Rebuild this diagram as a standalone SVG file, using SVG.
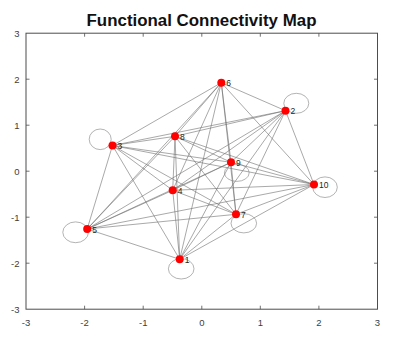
<svg xmlns="http://www.w3.org/2000/svg" width="405" height="347" viewBox="0 0 405 347">
<style>
.ax{stroke:#4d4d4d;stroke-width:1;fill:none}
.tk{stroke:#4d4d4d;stroke-width:0.8}
.tl{font-family:"Liberation Sans",Arial,sans-serif;font-size:9.5px;fill:#404040}
.ttl{font-family:"Liberation Sans",Arial,sans-serif;font-size:16.9px;font-weight:bold;fill:#111}
.e{stroke:#6e6e6e;stroke-width:0.6;fill:none}
.lp{stroke:#808080;stroke-width:0.6;fill:none}
.n{fill:#ff0000}
.nl{font-family:"Liberation Sans",Arial,sans-serif;font-size:8.5px;fill:#262626}
</style>
<rect width="405" height="347" fill="#fff"/>
<text class="ttl" x="201.5" y="26" text-anchor="middle">Functional Connectivity Map</text>
<g id="axes">
<rect class="ax" x="26" y="33.2" width="351.5" height="276"/>
<g class="tk">
<path d="M84.6 309.2v-3.5M143.2 309.2v-3.5M201.8 309.2v-3.5M260.3 309.2v-3.5M318.9 309.2v-3.5M84.6 33.2v3.5M143.2 33.2v3.5M201.8 33.2v3.5M260.3 33.2v3.5M318.9 33.2v3.5"/>
<path d="M26 79.2h3.5M26 125.2h3.5M26 171.2h3.5M26 217.2h3.5M26 263.2h3.5M377.5 79.2h-3.5M377.5 125.2h-3.5M377.5 171.2h-3.5M377.5 217.2h-3.5M377.5 263.2h-3.5"/>
</g>
<g class="tl" text-anchor="middle">
<text x="26" y="326">-3</text><text x="84.6" y="326">-2</text><text x="143.2" y="326">-1</text><text x="201.8" y="326">0</text><text x="260.3" y="326">1</text><text x="318.9" y="326">2</text><text x="377.5" y="326">3</text>
</g>
<g class="tl" text-anchor="end">
<text x="19.5" y="36.6">3</text><text x="19.5" y="82.6">2</text><text x="19.5" y="128.6">1</text><text x="19.5" y="174.6">0</text><text x="19.5" y="220.6">-1</text><text x="19.5" y="266.6">-2</text><text x="19.5" y="312.6">-3</text>
</g>
</g>
<g id="connectors">
<line class="e" x1="179.7" y1="259.3" x2="285.5" y2="110.7"/>
<line class="e" x1="179.7" y1="259.3" x2="112.5" y2="145.5"/>
<line class="e" x1="179.7" y1="259.3" x2="172.7" y2="190.3"/>
<line class="e" x1="179.7" y1="259.3" x2="87.2" y2="229"/>
<line class="e" x1="179.7" y1="259.3" x2="221.3" y2="82.7"/>
<line class="e" x1="179.7" y1="259.3" x2="236" y2="214.3"/>
<line class="e" x1="179.7" y1="259.3" x2="175" y2="136.3"/>
<line class="e" x1="179.7" y1="259.3" x2="231" y2="162.3"/>
<line class="e" x1="179.7" y1="259.3" x2="314" y2="184.5"/>
<line class="e" x1="285.5" y1="110.7" x2="112.5" y2="145.5"/>
<line class="e" x1="285.5" y1="110.7" x2="172.7" y2="190.3"/>
<line class="e" x1="285.5" y1="110.7" x2="87.2" y2="229"/>
<line class="e" x1="285.5" y1="110.7" x2="221.3" y2="82.7"/>
<line class="e" x1="285.5" y1="110.7" x2="236" y2="214.3"/>
<line class="e" x1="285.5" y1="110.7" x2="175" y2="136.3"/>
<line class="e" x1="285.5" y1="110.7" x2="231" y2="162.3"/>
<line class="e" x1="285.5" y1="110.7" x2="314" y2="184.5"/>
<line class="e" x1="112.5" y1="145.5" x2="172.7" y2="190.3"/>
<line class="e" x1="112.5" y1="145.5" x2="87.2" y2="229"/>
<line class="e" x1="112.5" y1="145.5" x2="221.3" y2="82.7"/>
<line class="e" x1="112.5" y1="145.5" x2="236" y2="214.3"/>
<line class="e" x1="112.5" y1="145.5" x2="175" y2="136.3"/>
<line class="e" x1="112.5" y1="145.5" x2="231" y2="162.3"/>
<line class="e" x1="112.5" y1="145.5" x2="314" y2="184.5"/>
<line class="e" x1="172.7" y1="190.3" x2="87.2" y2="229"/>
<line class="e" x1="172.7" y1="190.3" x2="221.3" y2="82.7"/>
<line class="e" x1="172.7" y1="190.3" x2="236" y2="214.3"/>
<line class="e" x1="172.7" y1="190.3" x2="175" y2="136.3"/>
<line class="e" x1="172.7" y1="190.3" x2="231" y2="162.3"/>
<line class="e" x1="172.7" y1="190.3" x2="314" y2="184.5"/>
<line class="e" x1="87.2" y1="229" x2="221.3" y2="82.7"/>
<line class="e" x1="87.2" y1="229" x2="236" y2="214.3"/>
<line class="e" x1="87.2" y1="229" x2="175" y2="136.3"/>
<line class="e" x1="87.2" y1="229" x2="231" y2="162.3"/>
<line class="e" x1="87.2" y1="229" x2="314" y2="184.5"/>
<line class="e" x1="221.3" y1="82.7" x2="236" y2="214.3"/>
<line class="e" x1="221.3" y1="82.7" x2="175" y2="136.3"/>
<line class="e" x1="221.3" y1="82.7" x2="231" y2="162.3"/>
<line class="e" x1="221.3" y1="82.7" x2="314" y2="184.5"/>
<line class="e" x1="236" y1="214.3" x2="175" y2="136.3"/>
<line class="e" x1="236" y1="214.3" x2="231" y2="162.3"/>
<line class="e" x1="236" y1="214.3" x2="314" y2="184.5"/>
<line class="e" x1="175" y1="136.3" x2="231" y2="162.3"/>
<line class="e" x1="175" y1="136.3" x2="314" y2="184.5"/>
<line class="e" x1="231" y1="162.3" x2="314" y2="184.5"/>
<ellipse class="lp" cx="181.2" cy="268.8" rx="12.8" ry="10.2"/>
<ellipse class="lp" cx="296.3" cy="103.3" rx="12.5" ry="10"/>
<ellipse class="lp" cx="100.2" cy="139.3" rx="11" ry="10.3"/>
<ellipse class="lp" cx="75.6" cy="232.3" rx="12.8" ry="10.4"/>
<ellipse class="lp" cx="243.8" cy="223.3" rx="12.8" ry="9.6"/>
<ellipse class="lp" cx="236.8" cy="172.8" rx="12.4" ry="8.6"/>
<ellipse class="lp" cx="325" cy="187.2" rx="12.3" ry="10.3"/>
</g>
<g id="node1"><circle class="n" cx="179.7" cy="259.3" r="4"/><text class="nl" x="184.7" y="262.8">1</text></g>
<g id="node2"><circle class="n" cx="285.5" cy="110.7" r="4"/><text class="nl" x="290.5" y="114.2">2</text></g>
<g id="node3"><circle class="n" cx="112.5" cy="145.5" r="4"/><text class="nl" x="117.5" y="149">3</text></g>
<g id="node4"><circle class="n" cx="172.7" cy="190.3" r="4"/><text class="nl" x="177.7" y="193.8">4</text></g>
<g id="node5"><circle class="n" cx="87.2" cy="229" r="4"/><text class="nl" x="92.2" y="232.5">5</text></g>
<g id="node6"><circle class="n" cx="221.3" cy="82.7" r="4"/><text class="nl" x="226.3" y="86.2">6</text></g>
<g id="node7"><circle class="n" cx="236" cy="214.3" r="4"/><text class="nl" x="241" y="217.8">7</text></g>
<g id="node8"><circle class="n" cx="175" cy="136.3" r="4"/><text class="nl" x="180" y="139.8">8</text></g>
<g id="node9"><circle class="n" cx="231" cy="162.3" r="4"/><text class="nl" x="236" y="165.8">9</text></g>
<g id="node10"><circle class="n" cx="314" cy="184.5" r="4"/><text class="nl" x="319" y="188">10</text></g>
</svg>
